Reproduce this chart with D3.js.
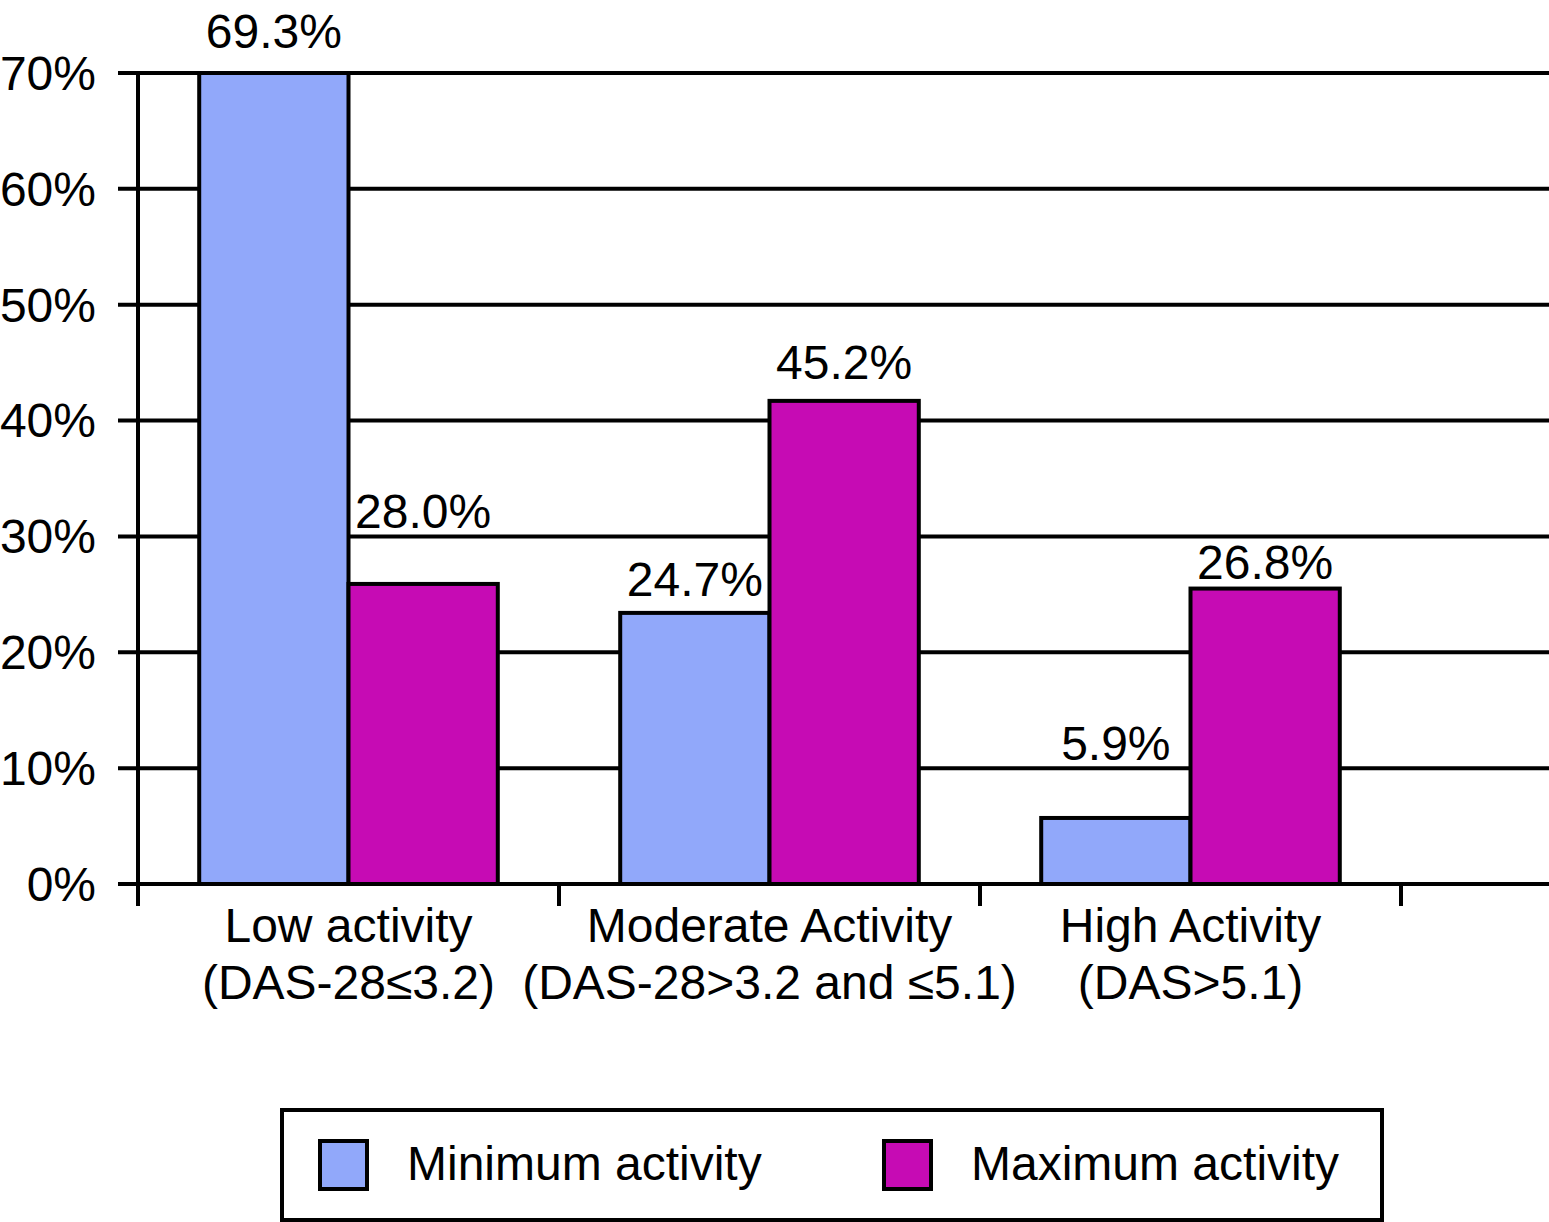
<!DOCTYPE html>
<html>
<head>
<meta charset="utf-8">
<script src="https://cdn.jsdelivr.net/npm/d3@7"></script>
<style>
    body { margin: 0; background: #fff; }
    text { font-family: "Liberation Sans", Arial, Helvetica, sans-serif; fill: #000; }
</style>
</head>
<body>
<svg id="chart" width="1549" height="1222"></svg>
<script>
// data
var categories = ["Low activity", "Moderate Activity", "High Activity"];
var subLabels = ["(DAS-28\u22643.2)", "(DAS-28>3.2 and \u22645.1)", "(DAS>5.1)"];
var seriesNames = ["Minimum activity", "Maximum activity"];
var minValues = [70.0, 23.4, 5.7];
var maxValues = [25.9, 41.7, 25.5];
var minLabels = ["69.3%", "24.7%", "5.9%"];
var maxLabels = ["28.0%", "45.2%", "26.8%"];
var yTicks = [0, 10, 20, 30, 40, 50, 60, 70];

// look
var colors = ["#91a8fa", "#c60bb4"];
// labels were placed by hand in the original, gap above bar top in px
var minLabelGap = [25, 17, 58];
var maxLabelGap = [56, 22, 10];

var svg = d3.select("#chart");
var plotLeft = 138, plotRight = 1401, plotTop = 73, plotBottom = 884;

var y = d3.scaleLinear().domain([0, 70]).range([plotBottom, plotTop]);
var x0 = d3.scaleBand().domain(categories).range([plotLeft, plotRight]).padding(0);
var x1 = d3.scaleBand().domain(seriesNames).range([0, x0.bandwidth()]).paddingInner(0).paddingOuter(0.41);

// gridlines + left ticks
svg.append("g").selectAll("line")
    .data(yTicks)
    .enter().append("line")
    .attr("x1", plotLeft - 20).attr("x2", 1549)
    .attr("y1", function(d){ return y(d); })
    .attr("y2", function(d){ return y(d); })
    .attr("stroke", "#000").attr("stroke-width", 4);

svg.append("g").selectAll("text")
    .data(yTicks)
    .enter().append("text")
    .attr("x", 96)
    .attr("y", function(d){ return y(d); })
    .attr("dy", "0.35em")
    .attr("text-anchor", "end")
    .attr("font-size", 48)
    .text(function(d){ return d + "%"; });

// y axis line
svg.append("line")
    .attr("x1", plotLeft).attr("x2", plotLeft)
    .attr("y1", plotTop - 2).attr("y2", plotBottom + 22)
    .attr("stroke", "#000").attr("stroke-width", 4);

// category ticks
var bounds = categories.map(function(c){ return x0(c); }).concat([plotRight]);
svg.append("g").selectAll("line")
    .data(bounds.slice(1))
    .enter().append("line")
    .attr("x1", function(d){ return d; }).attr("x2", function(d){ return d; })
    .attr("y1", plotBottom).attr("y2", plotBottom + 22)
    .attr("stroke", "#000").attr("stroke-width", 4);

// bars
var rows = categories.map(function(c, i){
    return [
        {cat: c, s: seriesNames[0], v: minValues[i], label: minLabels[i], gap: minLabelGap[i], color: colors[0]},
        {cat: c, s: seriesNames[1], v: maxValues[i], label: maxLabels[i], gap: maxLabelGap[i], color: colors[1]}
    ];
});
var flat = [].concat.apply([], rows);

svg.append("g").selectAll("rect")
    .data(flat)
    .enter().append("rect")
    .attr("x", function(d){ return x0(d.cat) + x1(d.s); })
    .attr("y", function(d){ return y(d.v); })
    .attr("width", x1.bandwidth())
    .attr("height", function(d){ return plotBottom - y(d.v); })
    .attr("fill", function(d){ return d.color; })
    .attr("stroke", "#000").attr("stroke-width", 4);

svg.append("g").selectAll("text")
    .data(flat)
    .enter().append("text")
    .attr("x", function(d){ return x0(d.cat) + x1(d.s) + x1.bandwidth() / 2; })
    .attr("y", function(d){ return y(d.v) - d.gap; })
    .attr("text-anchor", "middle")
    .attr("font-size", 48)
    .text(function(d){ return d.label; });

// category labels
var catG = svg.append("g");
categories.forEach(function(c, i){
    var cx = x0(c) + x0.bandwidth() / 2;
    catG.append("text").attr("x", cx).attr("y", 942).attr("text-anchor", "middle")
        .attr("font-size", 48).text(c);
    catG.append("text").attr("x", cx).attr("y", 999).attr("text-anchor", "middle")
        .attr("font-size", 48).text(subLabels[i]);
});

// legend
var lg = svg.append("g");
lg.append("rect").attr("x", 282).attr("y", 1110).attr("width", 1100).attr("height", 110)
    .attr("fill", "#fff").attr("stroke", "#000").attr("stroke-width", 4);
var legX = [320, 884];
seriesNames.forEach(function(s, i){
    lg.append("rect").attr("x", legX[i]).attr("y", 1141).attr("width", 47).attr("height", 48)
        .attr("fill", colors[i]).attr("stroke", "#000").attr("stroke-width", 4);
    lg.append("text").attr("x", legX[i] + 87).attr("y", 1180)
        .attr("font-size", 48).text(s);
});
</script>
</body>
</html>
